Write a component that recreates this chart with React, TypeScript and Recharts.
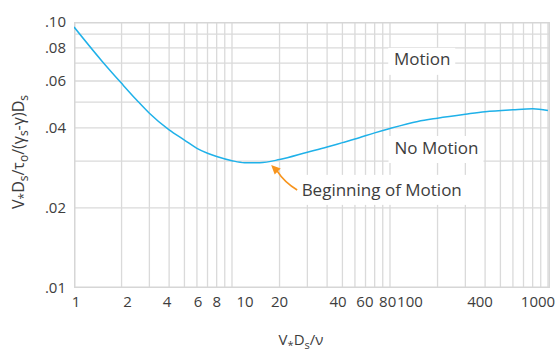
import React from "react"
import { LineChart, Line, XAxis, YAxis, ReferenceDot } from "recharts"

// critical shear stress curve
const reynolds = [1, 1.5, 2, 2.5, 3, 4, 5, 6, 7, 8, 10, 12, 15, 20, 30, 40, 50, 60, 80, 100, 150, 200, 300, 400, 600, 800, 1000]
const shields = [0.0958, 0.0714, 0.0588, 0.0508, 0.0454, 0.0393, 0.036, 0.0335, 0.0321, 0.0312, 0.0301, 0.0296, 0.0296, 0.0304, 0.0324, 0.0339, 0.0352, 0.0363, 0.0383, 0.0398, 0.0423, 0.0435, 0.045, 0.046, 0.0468, 0.0472, 0.0465]

const xTicks = [1, 2, 4, 6, 8, 10, 20, 40, 60, 80, 100, 400, 1000]
const yTicks = [0.01, 0.02, 0.04, 0.06, 0.08, 0.1]
const xGrid = [2, 3, 4, 5, 6, 7, 8, 9, 10, 20, 30, 40, 50, 60, 70, 80, 90, 100, 200, 300, 400, 500, 600, 700, 800, 900, 1000]
const yGrid = [0.02, 0.03, 0.04, 0.05, 0.06, 0.07, 0.08, 0.09]
const xDomain = [1, 1030]
const yDomain = [0.01, 0.1]

// annotation anchors (data coords)
const motionAt = { x: 160, y: 0.069 }
const noMotionAt = { x: 197, y: 0.0319 }
const beginAt = { x: 27.6, y: 0.0222 }
const arrowTip = { x: 17.7, y: 0.029 }

const data = reynolds.map((x, i) => ({ x, y: shields[i] }))

// grid drawn as serpentine paths, the joins run along the frame and get hidden by it
const vGridPath = xGrid.flatMap((x, i) => {
  const ends = i % 2 === 0 ? yDomain : [yDomain[1], yDomain[0]]
  return ends.map((y) => ({ x, y }))
})
const hGridPath = yGrid.flatMap((y, i) => {
  const ends = i % 2 === 0 ? xDomain : [xDomain[1], xDomain[0]]
  return ends.map((x) => ({ x, y }))
})
const frame = [
  { x: xDomain[0], y: yDomain[0] },
  { x: xDomain[0], y: yDomain[1] },
  { x: xDomain[1], y: yDomain[1] },
  { x: xDomain[1], y: yDomain[0] },
  { x: xDomain[0], y: yDomain[0] },
]

const FONT = "'Open Sans', sans-serif"
const TEXT = "#3d3d3d"
const GRID = "#dadada"
const BORDER = "#d6d6d6"

// the labels in the original are nudged a bit off their gridlines
const tickNudge: Record<number, number> = { 1: 2, 2: 6, 4: -2, 6: 1, 10: 13, 40: 11, 60: 10, 80: 13, 100: 20, 400: -5, 1000: -10 }

const XTick = (props: any) => {
  const { x, y, payload } = props
  const v = payload.value
  return (
    <text x={x + (tickNudge[v] || 0)} y={y} dy="0.71em" textAnchor="middle" fill={TEXT} fontSize={15} fontFamily={FONT}>
      {v}
    </text>
  )
}

const fmtY = (v: number) => "." + String(Math.round(v * 100)).padStart(2, "0")

const YLabel = (props: any) => {
  const { viewBox } = props
  const cx = viewBox.x + 24
  const cy = viewBox.y + viewBox.height / 2 - 3
  const sub = { fontSize: 12 }
  return (
    <text x={cx} y={cy} transform={`rotate(-90, ${cx}, ${cy})`} textAnchor="middle" fill={TEXT} fontSize={16} fontFamily={FONT}>
      V<tspan dy={4} {...sub}>*</tspan>
      <tspan dy={-4}>D</tspan>
      <tspan dy={4} {...sub}>s</tspan>
      <tspan dy={-4}>/τ</tspan>
      <tspan dy={4} {...sub}>o</tspan>
      <tspan dy={-4}>/(γ</tspan>
      <tspan dy={4} {...sub}>s</tspan>
      <tspan dy={-4}>-γ)D</tspan>
      <tspan dy={4} {...sub}>s</tspan>
    </text>
  )
}

const XLabel = (props: any) => {
  const { viewBox } = props
  const cx = viewBox.x + viewBox.width / 2 - 11
  const cy = viewBox.y + 57
  const sub = { fontSize: 11 }
  return (
    <text x={cx} y={cy} textAnchor="middle" fill={TEXT} fontSize={15} fontFamily={FONT}>
      V<tspan dy={4} {...sub}>*</tspan>
      <tspan dy={-4}>D</tspan>
      <tspan dy={4} {...sub}>s</tspan>
      <tspan dy={-4}>/ν</tspan>
    </text>
  )
}

const boxedLabel = (text: string, anchor: "start" | "middle", box: [number, number, number, number]) => (props: any) => {
  const { cx, cy } = props
  return (
    <g>
      <rect x={cx + box[0]} y={cy + box[1]} width={box[2]} height={box[3]} fill="#fff" />
      <text x={cx} y={cy} textAnchor={anchor} fill={TEXT} fontSize={17} fontFamily={FONT}>
        {text}
      </text>
    </g>
  )
}

const Arrow = (props: any) => {
  const { cx, cy } = props
  return (
    <g>
      <path d={`M${cx + 26},${cy + 25} Q${cx + 13},${cy + 17} ${cx + 6},${cy + 6}`} fill="none" stroke="#f7941d" strokeWidth={1.5} />
      <path d={`M${cx},${cy} L${cx + 9.5},${cy + 3.5} L${cx + 3.5},${cy + 9.5} Z`} fill="#f7941d" />
    </g>
  )
}

export default function App() {
  return (
    <div style={{ position: "absolute", left: 0, top: 0 }}>
      <LineChart width={557} height={355} data={data} margin={{ top: 22, right: 7, bottom: 27, left: 0 }}>
        <XAxis
          dataKey="x"
          type="number"
          scale="log"
          domain={xDomain}
          allowDataOverflow
          ticks={xTicks}
          interval={0}
          height={40}
          axisLine={false}
          tickLine={false}
          tick={<XTick />}
          label={<XLabel />}
        />
        <YAxis
          type="number"
          scale="log"
          domain={yDomain}
          allowDataOverflow
          ticks={yTicks}
          interval={0}
          width={74}
          axisLine={false}
          tickLine={false}
          tickFormatter={fmtY}
          tick={{ fill: TEXT, fontSize: 15, fontFamily: FONT }}
          label={<YLabel />}
        />
        <Line data={vGridPath} dataKey="y" type="linear" stroke={GRID} strokeWidth={1.3} dot={false} activeDot={false} isAnimationActive={false} />
        <Line data={hGridPath} dataKey="y" type="linear" stroke={GRID} strokeWidth={1.3} dot={false} activeDot={false} isAnimationActive={false} />
        <Line data={frame} dataKey="y" type="linear" stroke={BORDER} strokeWidth={3} dot={false} activeDot={false} isAnimationActive={false} />
        <Line dataKey="y" type="monotone" stroke="#1fb1e9" strokeWidth={1.5} dot={false} isAnimationActive={false} />
        <ReferenceDot x={motionAt.x} y={motionAt.y} shape={boxedLabel("Motion", "middle", [-34, -17, 67, 27])} />
        <ReferenceDot x={noMotionAt.x} y={noMotionAt.y} shape={boxedLabel("No Motion", "middle", [-48, -18, 95, 27])} />
        <ReferenceDot x={beginAt.x} y={beginAt.y} shape={boxedLabel("Beginning of Motion", "start", [-4, -21, 172, 30])} />
        <ReferenceDot x={arrowTip.x} y={arrowTip.y} shape={<Arrow />} />
      </LineChart>
    </div>
  )
}
